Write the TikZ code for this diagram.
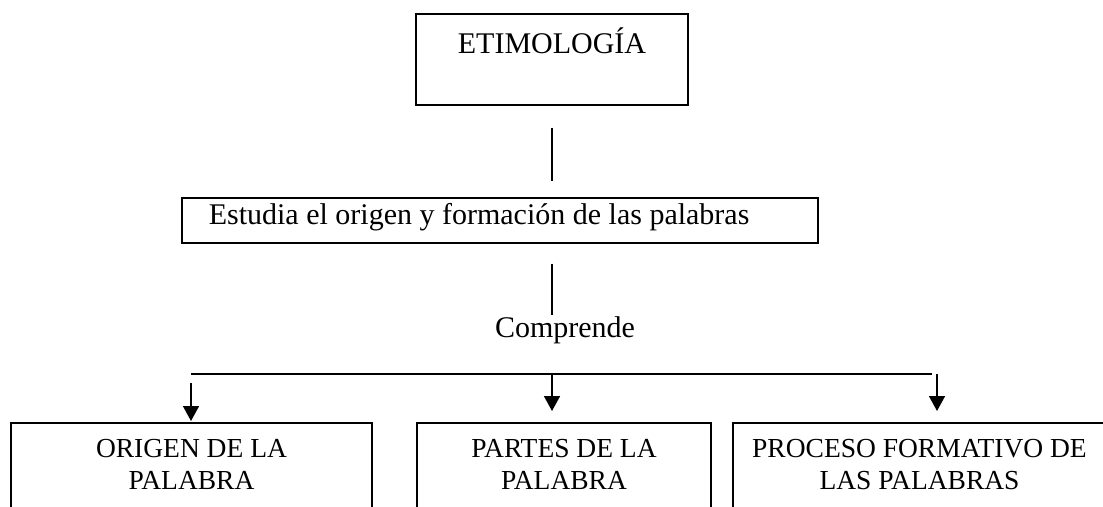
\documentclass[tikz,border=0pt]{standalone}
\usepackage{fontspec}
\setmainfont{Liberation Serif}
\usetikzlibrary{arrows.meta,positioning,calc}

\begin{document}
\begin{tikzpicture}[line width=0.9pt,
    caja/.style={draw,inner sep=0pt,align=flush center},
    flecha/.style={-{Triangle[width=0.32cm,length=0.3cm]}},
    letragrande/.style={font=\fontsize{17.07}{20.5}\selectfont},
    letrachica/.style={font=\fontsize{15.65}{18.2}\selectfont}]
    \useasboundingbox (0,0) rectangle (22.06,-10.14);
    \clip (0,0) rectangle (22.06,-10.14);
    % titulo y definicion
    \node[caja,letragrande,anchor=north,text width=5.44cm,text height=0.8cm,text depth=1.02cm]
      (etim) at (11.04,-0.26) {ETIMOLOGÍA};
    \node[caja,letragrande,anchor=north west,align=flush left,inner xsep=0.54cm,text width=11.64cm,
      text height=0.54cm,text depth=0.36cm]
      (estudia) at (3.62,-3.94) {Estudia el origen y formación de las palabras};
    \node[letragrande,inner sep=0pt,anchor=base] (comprende) at (11.30,-6.76) {Comprende};
    \draw[shorten <=0.44cm,shorten >=0.32cm] (etim.south) -- (etim.south |- estudia.north);
    \draw[shorten <=0.4cm,shorten >=0.03cm] (etim.south |- estudia.south) -- (etim.south |- comprende.north);
    % ramas
    \node[caja,letrachica,anchor=north,text width=7.22cm,text height=0.7cm,text depth=3cm]
      (origen) at (3.83,-8.44) {ORIGEN DE LA\\PALABRA};
    \node[caja,letrachica,anchor=north,text width=5.88cm,text height=0.7cm,text depth=3cm]
      (partes) at (11.28,-8.44) {PARTES DE LA\\PALABRA};
    \node[caja,letrachica,anchor=north,text width=7.46cm,text height=0.7cm,text depth=3cm]
      (proceso) at (18.39,-8.44) {PROCESO FORMATIVO DE\\LAS PALABRAS};
    \coordinate (barraL) at (3.82,-7.48);
    \coordinate (barraR) at (18.64,-7.48);
    \draw (barraL) -- (barraR);
    \draw[flecha,shorten <=0.18cm,shorten >=0.02cm] (barraL) -- (barraL |- origen.north);
    \draw[flecha,shorten >=0.22cm] (etim.south |- barraL) -- (etim.south |- partes.north);
    \draw[flecha,shorten >=0.22cm] ([xshift=0.1cm]barraR) -- ([xshift=0.1cm]barraR |- proceso.north);
  \end{tikzpicture}
\end{document}
